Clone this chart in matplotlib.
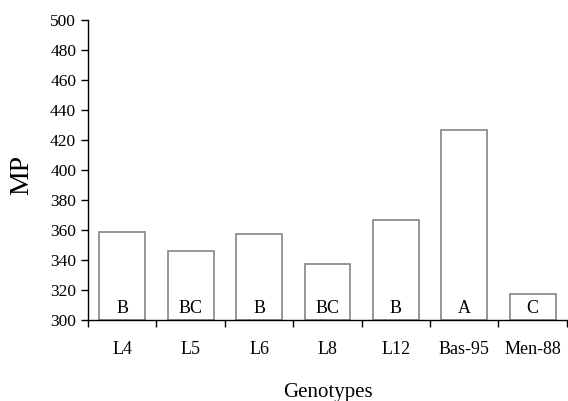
import numpy as np
import matplotlib.pyplot as plt

genotypes = ["L4", "L5", "L6", "L8", "L12", "Bas-95", "Men-88"]
mp_values = [358.5, 346.3, 357.5, 337.2, 366.5, 427.0, 317.3]
groups = ["B", "BC", "B", "BC", "B", "A", "C"]

plt.rcParams['font.family'] = ['Liberation Serif', 'DejaVu Serif']

fig = plt.figure(figsize=(5.68, 4.01), dpi=100)
ax = fig.add_axes([0.155, 0.202, 0.843, 0.748])

x = np.arange(len(genotypes))
ax.bar(x, np.array(mp_values) - 300, bottom=300, width=0.67,
       color="white", edgecolor="#858585", linewidth=1.2)

for xi, g in zip(x, groups):
    ax.text(xi, 308.0, g, ha="center", va="center", fontsize=13, color="black")

ax.set_xlim(-0.5, len(genotypes) - 0.5)
ax.set_ylim(300, 500)
ax.set_yticks(np.arange(300, 501, 20))
ax.tick_params(axis="y", labelsize=12.5, length=5, width=1, direction="out", pad=3.5)

# ticks at category borders, labels centred under bars
ax.set_xticks(np.arange(-0.5, len(genotypes), 1.0))
ax.set_xticklabels([])
ax.set_xticks(x, minor=True)
ax.set_xticklabels(genotypes, minor=True)
ax.tick_params(axis="x", which="major", length=5, width=1, direction="out")
ax.tick_params(axis="x", which="minor", length=0, labelsize=13, pad=15)

for s in ["top", "right"]:
    ax.spines[s].set_visible(False)
for s in ["left", "bottom"]:
    ax.spines[s].set_linewidth(1)

ax.set_ylabel("MP", fontsize=20)
ax.yaxis.set_label_coords(-0.113, 0.483)
ax.set_xlabel("Genotypes", fontsize=15)
ax.xaxis.set_label_coords(0.502, -0.21)

fig.savefig("out.png", dpi=100)
